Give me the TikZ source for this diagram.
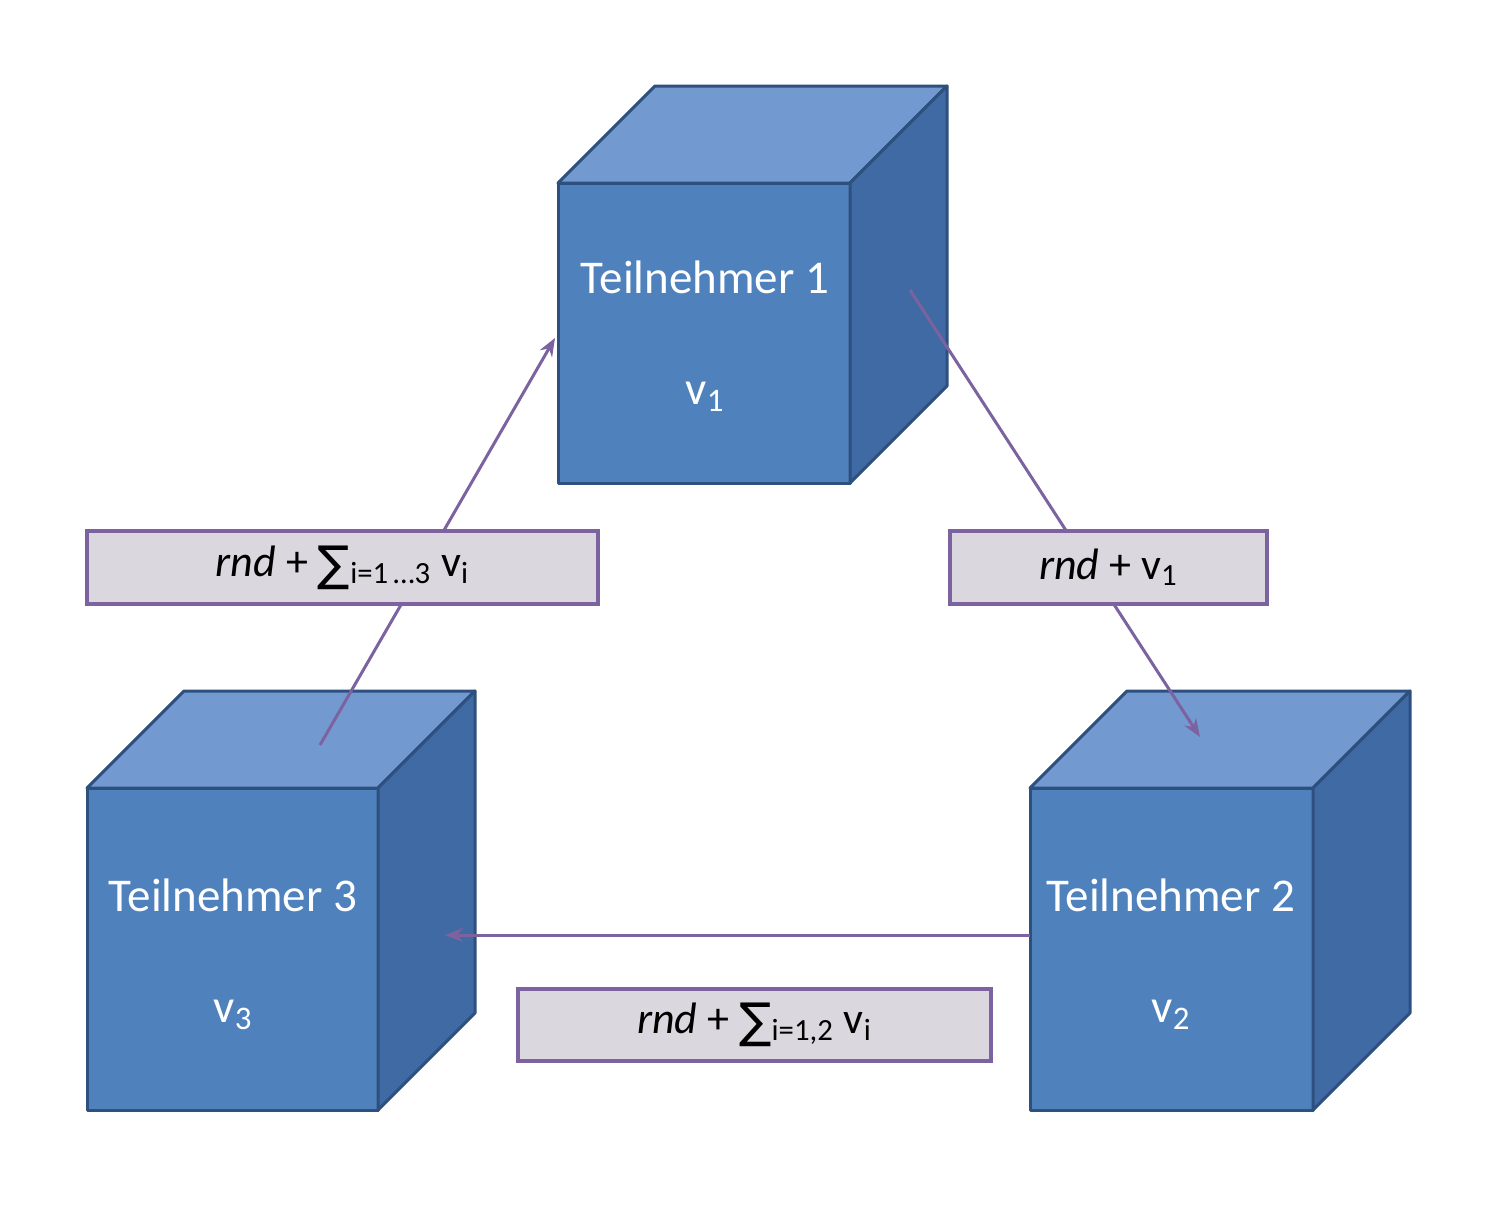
\documentclass[tikz,border=0pt]{standalone}
\usepackage{fontspec}
\setmainfont{Carlito}
\newfontfamily\symfnt{DejaVu Sans}
\usetikzlibrary{arrows.meta}
\definecolor{frontc}{RGB}{79,129,189}
\definecolor{topc}{RGB}{114,154,209}
\definecolor{sidec}{RGB}{63,106,164}
\definecolor{edgec}{RGB}{46,80,126}
\definecolor{connc}{RGB}{125,98,160}
\definecolor{boxfill}{RGB}{218,216,222}
\newcommand\mycube[5]{% name, cx, cy, width, height
  \node[frontface,minimum width=#4*0.5pt,minimum height=#5*0.5pt] (#1) at (#2,#3) {};
  \draw[face,fill=topc] (#1.north west) -- ++(97,-97) -- ([shift={(97,-97)}]#1.north east) -- (#1.north east) -- cycle;
  \draw[face,fill=sidec] (#1.north east) -- ++(97,-97) -- ([shift={(97,-97)}]#1.south east) -- (#1.south east) -- cycle;
}
\newcommand\bigsum{{\symfnt\fontsize{24}{24}\selectfont\raisebox{-0.15ex}{∑}}}
\begin{document}
\begin{tikzpicture}[x=0.5pt,y=-0.5pt,
  face/.style={draw=edgec,line width=1.5pt,line join=round},
  frontface/.style={face,fill=frontc,inner sep=0pt,outer sep=0pt},
  cubetext/.style={text=white,font=\fontsize{23.5}{27}\selectfont},
  labelbox/.style={draw=connc,line width=1.6pt,fill=boxfill,inner sep=0pt,font=\fontsize{22}{24}\selectfont},
  conn/.style={draw=connc,line width=1.5pt,-{Stealth[length=9pt,width=7pt]}}]
\useasboundingbox (0,0) rectangle (1500,1207);
\fill[white] (0,0) rectangle (1500,1207);
% cubes
\mycube{c1}{704}{333}{292}{300}
\mycube{c3}{232.5}{949}{291}{322}
\mycube{c2}{1171.5}{949}{283}{322}
% cube texts
\node[cubetext] (t1) at (705,277) {Teilnehmer 1};
\node[cubetext] (v1) at (705,397) {v\textsubscript{1}};
\node[cubetext] (t3) at (233,895) {Teilnehmer 3};
\node[cubetext] (v3) at (233,1015) {v\textsubscript{3}};
\node[cubetext] (t2) at (1171,895) {Teilnehmer 2};
\node[cubetext] (v2) at (1171,1015) {v\textsubscript{2}};
% connector ends
\coordinate (a1s) at (320,745);
\coordinate (a1e) at (555,338);
\coordinate (a2s) at (910,290);
\coordinate (a2e) at (1200,737);
\coordinate (a3s) at (1030,935);
\coordinate (a3e) at (445,935);
\draw[conn] (a1s) -- (a1e);
\draw[conn] (a2s) -- (a2e);
\draw[conn] (a3s) -- (a3e);
% label boxes
\node[labelbox,minimum width=255.5pt,minimum height=36.5pt] (l1) at (342.5,567.5)
  {\textit{rnd} + \bigsum\textsubscript{i=1\,\ldots3} v\textsubscript{i}};
\node[labelbox,minimum width=158.5pt,minimum height=36.5pt] (l2) at (1108.5,567.5)
  {\textit{rnd} + v\textsubscript{1}};
\node[labelbox,minimum width=236.5pt,minimum height=36pt] (l3) at (754.5,1025)
  {\textit{rnd} + \bigsum\textsubscript{i=1,2} v\textsubscript{i}};
\end{tikzpicture}
\end{document}
